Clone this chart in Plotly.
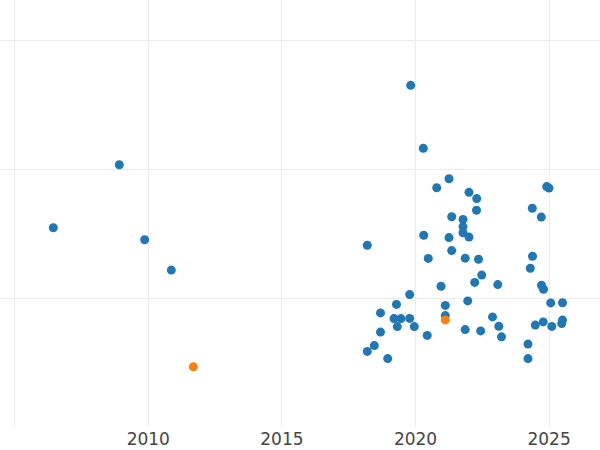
import plotly.graph_objects as go

# Blue series (decimal year, value)
blue_year = [
    2006.445, 2008.915, 2009.865, 2010.861, 2019.821, 2020.292, 2021.254, 2020.794,
    2022.002, 2022.291, 2022.283, 2021.355, 2021.778, 2021.778, 2021.778, 2022.002,
    2024.371, 2024.708, 2024.910, 2024.996, 2018.196, 2020.307, 2021.254, 2021.355,
    2020.479, 2021.860, 2022.358, 2022.478, 2022.216, 2023.080, 2020.955, 2024.379,
    2024.297, 2024.716, 2024.791, 2019.783, 2019.289, 2021.115, 2021.954, 2025.060,
    2025.502, 2018.690, 2019.196, 2019.457, 2019.783, 2019.319, 2019.955, 2021.115,
    2022.882, 2023.118, 2023.219, 2021.860, 2022.440, 2018.690, 2020.438, 2018.458,
    2018.196, 2018.960, 2024.484, 2024.779, 2025.101, 2025.502, 2025.472, 2024.210,
    2024.210,
]
blue_value = [
    15.456, 20.346, 14.525, 12.173, 26.508, 21.618, 19.259, 18.561,
    18.203, 17.722, 16.814, 16.310, 16.108, 15.549, 15.068, 14.734,
    16.970, 16.287, 18.654, 18.537, 14.098, 14.874, 14.696, 13.687,
    13.081, 13.097, 13.012, 11.785, 11.219, 11.048, 10.916, 13.244,
    12.313, 10.994, 10.683, 10.272, 9.511, 9.434, 9.783, 9.628,
    9.636, 8.852, 8.409, 8.409, 8.425, 7.788, 7.788, 8.642,
    8.541, 7.812, 6.997, 7.556, 7.455, 7.362, 7.105, 6.314,
    5.864, 5.305, 7.905, 8.153, 7.804, 8.293, 8.021, 6.430,
    5.305,
]

# Orange series
orange_year = [2011.684, 2021.115]
orange_value = [4.669, 8.309]

x_tickvals = [2005, 2010, 2015, 2020, 2025]
x_ticktext = ["", "2010", "2015", "2020", "2025"]
y_tickvals = [10, 20, 30]

fig = go.Figure()
fig.add_trace(go.Scatter(
    x=blue_year, y=blue_value, mode="markers",
    marker=dict(color="#1f77b4", size=9, line=dict(width=0)),
    showlegend=False,
))
fig.add_trace(go.Scatter(
    x=orange_year, y=orange_value, mode="markers",
    marker=dict(color="#ff7f0e", size=9, line=dict(width=0)),
    showlegend=False,
))

fig.update_layout(
    width=600, height=450,
    margin=dict(l=0, r=0, t=0, b=23),
    paper_bgcolor="white", plot_bgcolor="white",
    font=dict(family="DejaVu Sans", size=17, color="#444444"),
    xaxis=dict(
        range=[2004.45, 2026.905], tickvals=x_tickvals, ticktext=x_ticktext,
        showgrid=True, gridcolor="#ebebeb", gridwidth=1,
        zeroline=False, showline=False, ticks="", automargin=False,
    ),
    yaxis=dict(
        range=[0, 33.128], tickvals=y_tickvals, showticklabels=False,
        showgrid=True, gridcolor="#ebebeb", gridwidth=1,
        zeroline=False, showline=False, ticks="", automargin=False,
    ),
)

fig.write_html(
    "out.html",
    config={"displayModeBar": False},
    post_script="document.body.style.margin='0px';document.body.style.overflow='hidden';",
)
